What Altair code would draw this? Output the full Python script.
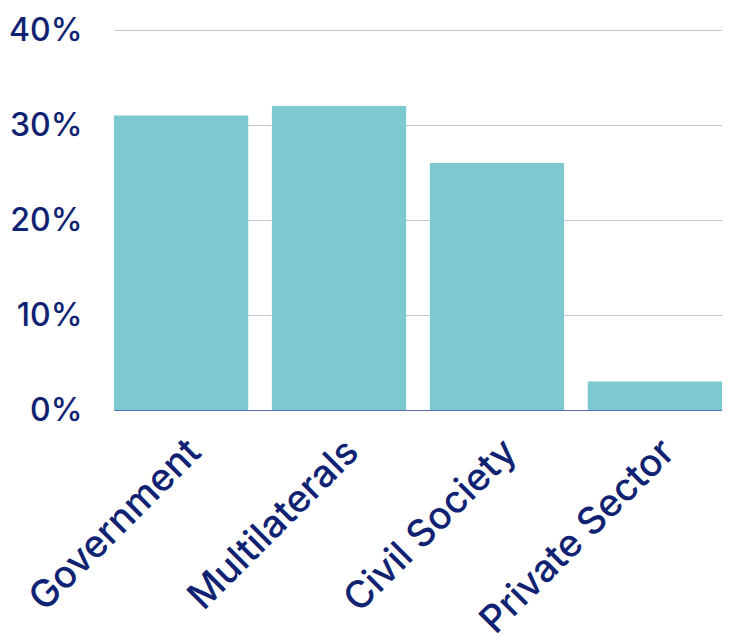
import altair as alt
import pandas as pd

categories = ["Government", "Multilaterals", "Civil Society", "Private Sector"]
values = [0.31, 0.32, 0.26, 0.03]

df = pd.DataFrame({"category": categories, "value": values})

NAVY = "#0f2372"
FONT = "Inter"

chart = alt.Chart(df).mark_bar(color="#7ccad0").encode(
    x=alt.X("category:N", sort=categories, title=None,
            scale=alt.Scale(paddingInner=0.15, paddingOuter=0),
            axis=alt.Axis(labelAngle=-45, labelAlign="right", labelBaseline="middle",
                          labelFontSize=38, labelFont=FONT, labelFontWeight=500,
                          labelColor=NAVY, ticks=False, labelPadding=36, labelOffset=14,
                          domainColor="#5b6cb5", domainWidth=1, labelLimit=400)),
    y=alt.Y("value:Q", title=None,
            scale=alt.Scale(domain=[0, 0.4]),
            axis=alt.Axis(format=".0%", values=[0, 0.1, 0.2, 0.3, 0.4],
                          labelFontSize=32, labelFont=FONT, labelFontWeight=500,
                          labelColor=NAVY, ticks=False, domain=False, labelPadding=32,
                          gridColor="#c3c7da", gridWidth=1)),
).properties(
    width=608, height=380,
    autosize=alt.AutoSizeParams(type="none"),
    padding={"left": 106, "top": 22, "right": 0, "bottom": 233},
).configure_view(stroke=None)

chart.save("out.html", embed_options={"renderer": "svg", "actions": False})
